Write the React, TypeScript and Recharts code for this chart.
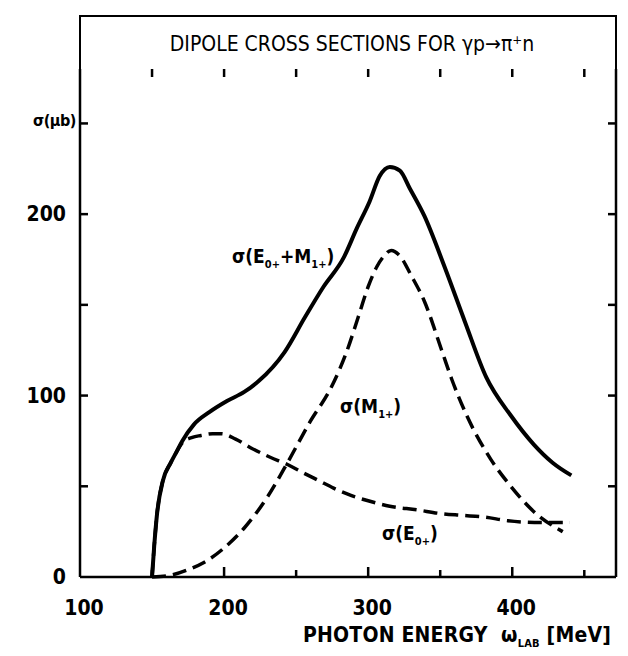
import { LineChart, Line, XAxis, YAxis, ReferenceLine } from 'recharts';

// sigma(E0+ + M1+), solid
const sumEnergy = [150, 151.5, 153.5, 157.5, 163, 167, 171, 179, 190, 202, 214, 224, 242, 256, 269, 283, 292, 301, 308, 315, 322, 329, 339, 353, 367, 382, 399, 415, 428, 441];
const sumSigma = [0, 17, 35, 53, 63, 69, 75, 84, 91, 97, 102, 108, 124, 143, 160, 176, 192, 207, 221, 226, 224, 214, 199, 171, 141, 110, 89, 73, 63, 56];

// sigma(M1+), dashed
const m1Energy = [150, 163, 175, 186, 200, 214, 230, 244, 260, 274, 285, 293, 300, 306, 311, 316, 322, 330, 339, 351, 358, 369, 385, 399, 415, 435];
const m1Sigma = [0, 1, 4, 8, 16, 27, 44, 63, 86, 104, 124, 143, 160, 171, 177, 180, 177, 166, 152, 125, 109, 88, 65, 50, 36, 25];

// sigma(E0+), dashed
const e0Energy = [150, 151.5, 153.5, 157.5, 163, 167, 171, 178, 184, 192, 198, 208, 219, 232, 244, 256, 266, 276, 288, 300, 315, 334, 350, 365, 381, 397, 420, 440];
const e0Sigma = [0, 17, 35, 53, 63, 69, 74, 77, 78, 79, 79, 76, 71, 66, 62, 57, 53, 49, 45, 42, 39, 37, 35, 34, 33, 31, 30, 30];

const xTicks = [100, 150, 200, 250, 300, 350, 400, 450];
const xLabels = [100, 200, 300, 400];
const yTicks = [0, 50, 100, 150, 200, 250];
const yLabels = [0, 100, 200];

const X_MIN = 100;
const X_MAX = 472;
const Y_MAX = 280;
// pixels per data unit, for tick lengths only
const PX_X = 536 / (X_MAX - X_MIN);
const PX_Y = 508 / Y_MAX;

const zip = (xs: number[], ys: number[]) => xs.map((x, i) => ({ x, y: ys[i] }));

// inward tick marks on the bottom edge, drawn as broken vertical strokes
const bottomTickData = xTicks
  .filter((v) => v !== X_MIN)
  .flatMap((v) => [
    { x: v, y: 0 },
    { x: v, y: (xLabels.includes(v) ? 10 : 7) / PX_Y },
    { x: v, y: null },
  ]);

const FONT = '"DejaVu Sans Condensed", "DejaVu Sans", sans-serif';
const INK = '#000';

function BottomLabel({ x, y, payload }: any) {
  const v = payload.value;
  if (!xLabels.includes(v)) return null;
  return (
    <text x={x + 4} y={y + 38} textAnchor="middle" fontFamily={FONT} fontWeight="bold" fontSize={21} fill={INK}>
      {v}
    </text>
  );
}

function LeftLabel({ x, y, payload }: any) {
  const v = payload.value;
  if (!yLabels.includes(v)) return null;
  return (
    <text x={x - 14} y={y + 7} textAnchor="end" fontFamily={FONT} fontWeight="bold" fontSize={21} fill={INK}>
      {v}
    </text>
  );
}

const sub = { fontSize: 11, verticalAlign: '-5px' } as const;

const tickStyle = { stroke: INK, strokeWidth: 2.5, ifOverflow: 'visible' as const };

export default function App() {
  const inner = xTicks.filter((v) => v !== X_MIN);
  const innerY = yTicks.filter((v) => v !== 0);
  return (
    <div style={{ position: 'absolute', left: 0, top: 0, width: 628, height: 656, background: '#fff', fontFamily: FONT, color: INK }}>
      <div
        style={{
          position: 'absolute',
          left: 79,
          top: 15,
          width: 538,
          height: 55,
          boxSizing: 'border-box',
          border: '2.5px solid #000',
          borderBottom: 'none',
          display: 'flex',
          alignItems: 'center',
          justifyContent: 'center',
          fontSize: 21,
          paddingLeft: 8,
        }}
      >
        DIPOLE CROSS SECTIONS FOR γp→π⁺n
      </div>

      <LineChart width={628} height={656} margin={{ top: 69, right: 0, bottom: 0, left: 0 }}>
        <XAxis
          dataKey="x"
          type="number"
          domain={[X_MIN, X_MAX]}
          ticks={xTicks}
          height={79}
          axisLine={{ stroke: INK, strokeWidth: 2.5 }}
          tickLine={false}
          tickSize={0}
          tickMargin={0}
          tick={<BottomLabel />}
          interval={0}
        />
        <XAxis
          xAxisId="top"
          orientation="top"
          dataKey="x"
          type="number"
          domain={[X_MIN, X_MAX]}
          height={0}
          axisLine={{ stroke: INK, strokeWidth: 2.5 }}
          tickLine={false}
          tick={false}
        />
        <YAxis
          type="number"
          domain={[0, Y_MAX]}
          ticks={yTicks}
          width={80}
          axisLine={{ stroke: INK, strokeWidth: 2.5 }}
          tickLine={false}
          tickSize={0}
          tickMargin={0}
          tick={<LeftLabel />}
          interval={0}
        />
        <YAxis
          yAxisId="right"
          orientation="right"
          type="number"
          domain={[0, Y_MAX]}
          width={12}
          axisLine={{ stroke: INK, strokeWidth: 2.5 }}
          tickLine={false}
          tick={false}
        />
        {inner.map((v) => (
          <ReferenceLine key={'t' + v} segment={[{ x: v, y: Y_MAX }, { x: v, y: Y_MAX - 8 / PX_Y }]} {...tickStyle} />
        ))}
        {innerY.map((v) => (
          <ReferenceLine key={'l' + v} segment={[{ x: X_MIN, y: v }, { x: X_MIN + 8 / PX_X, y: v }]} {...tickStyle} />
        ))}
        {innerY.map((v) => (
          <ReferenceLine key={'r' + v} segment={[{ x: X_MAX, y: v }, { x: X_MAX - 8 / PX_X, y: v }]} {...tickStyle} />
        ))}
        <Line data={bottomTickData} dataKey="y" type="linear" stroke={INK} strokeWidth={2.5} dot={false} connectNulls={false} isAnimationActive={false} legendType="none" />
        <Line data={zip(sumEnergy, sumSigma)} dataKey="y" type="monotone" stroke={INK} strokeWidth={4} dot={false} isAnimationActive={false} />
        <Line data={zip(m1Energy, m1Sigma)} dataKey="y" type="monotone" stroke={INK} strokeWidth={3.5} strokeDasharray="14 7" dot={false} isAnimationActive={false} />
        <Line data={zip(e0Energy, e0Sigma)} dataKey="y" type="monotone" stroke={INK} strokeWidth={3.5} strokeDasharray="14 7" dot={false} isAnimationActive={false} />
      </LineChart>

      <div style={{ position: 'absolute', left: 33, top: 111, fontSize: 16, fontWeight: 'bold', letterSpacing: -0.5 }}>σ(μb)</div>
      <div style={{ position: 'absolute', left: 232, top: 245, fontSize: 19, fontWeight: 'bold' }}>
        σ(E<span style={sub}>0+</span>+M<span style={sub}>1+</span>)
      </div>
      <div style={{ position: 'absolute', left: 340, top: 395, fontSize: 19, fontWeight: 'bold' }}>
        σ(M<span style={sub}>1+</span>)
      </div>
      <div style={{ position: 'absolute', left: 382, top: 522, fontSize: 19, fontWeight: 'bold' }}>
        σ(E<span style={sub}>0+</span>)
      </div>
      <div style={{ position: 'absolute', left: 303, top: 623, fontSize: 21, fontWeight: 'bold', whiteSpace: 'nowrap', letterSpacing: 0.2 }}>
        PHOTON ENERGY&nbsp; ω<span style={sub}>LAB</span> [MeV]
      </div>
    </div>
  );
}
